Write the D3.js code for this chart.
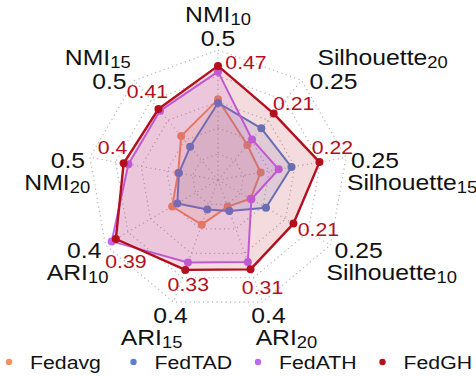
<!doctype html>
<html lang="en">
<head>
<meta charset="UTF-8">
<title>radar</title>
<script src="https://cdn.jsdelivr.net/npm/d3@7"></script>
<style>
  body { margin: 0; background: #fff; }
  text { font-family: "Liberation Sans", Arial, sans-serif; }
</style>
</head>
<body>
<script>
  // axes, clockwise from the top
  var axisNames = ["NMI", "Silhouette", "Silhouette", "Silhouette", "ARI", "ARI", "ARI", "NMI", "NMI"];
  var axisSubs = ["10", "20", "15", "10", "20", "15", "10", "20", "15"];
  var axisMax = [0.5, 0.25, 0.25, 0.25, 0.4, 0.4, 0.4, 0.5, 0.5];

  // series values
  var seriesNames = ["Fedavg", "FedTAD", "FedATH", "FedGH"];
  var fedavg = [0.335, 0.095, 0.09, 0.078, 0.094, 0.158, 0.176, 0.168, 0.238];
  var fedtad = [0.32, 0.14, 0.155, 0.115, 0.11, 0.104, 0.156, 0.165, 0.18];
  var fedath = [0.45, 0.11, 0.128, 0.08, 0.29, 0.292, 0.408, 0.378, 0.375];
  var fedgh = [0.474, 0.18, 0.214, 0.181, 0.316, 0.318, 0.392, 0.398, 0.385];
  var fedghLabels = ["0.47", "0.21", "0.22", "0.21", "0.31", "0.33", "0.39", "0.4", "0.41"];

  var colors = ["#f4915f", "#5b80cc", "#c266f2", "#b30f1c"];
  var allSeries = [fedavg, fedtad, fedath, fedgh];

  var width = 476, height = 377;
  var cx = 218, cy = 180;
  var n = axisNames.length;
  var stretch = 1.15; // text in the picture is a bit wide

  var svg = d3.select("body").append("svg")
      .attr("width", width)
      .attr("height", height);
  var g = svg.append("g").attr("transform", "translate(" + cx + "," + cy + ")");

  // text placed at (x,y), widened a little
  function label(parent, x, y, anchor, size, color) {
    return parent.append("g")
        .attr("transform", "translate(" + x + "," + y + ")")
      .append("text")
        .attr("transform", "scale(" + stretch + ",1)")
        .attr("text-anchor", anchor)
        .attr("font-size", size)
        .attr("fill", color);
  }

  var angle = function(i) { return i * 2 * Math.PI / n; };
  var r = d3.scaleLinear().domain([0, 1.08]).range([0, 130]);

  var radial = d3.lineRadial()
      .angle(function(d, i) { return angle(i); })
      .radius(function(d) { return r(d); })
      .curve(d3.curveLinearClosed);

  // grid rings + spokes
  var rings = d3.range(1, 6).map(function(k) { return 1.08 * k / 5; });
  g.selectAll(".ring").data(rings).enter().append("path")
      .attr("d", function(lv) { return radial(d3.range(n).map(function() { return lv; })); })
      .attr("fill", "none")
      .attr("stroke", "#b5b5b5")
      .attr("stroke-width", 1.2)
      .attr("stroke-dasharray", "1.2,3.3");

  g.selectAll(".spoke").data(d3.range(n)).enter().append("line")
      .attr("x1", 0).attr("y1", 0)
      .attr("x2", function(i) { return d3.pointRadial(angle(i), r(1.08))[0]; })
      .attr("y2", function(i) { return d3.pointRadial(angle(i), r(1.08))[1]; })
      .attr("stroke", "#b5b5b5")
      .attr("stroke-width", 1.2)
      .attr("stroke-dasharray", "1.2,3.3");

  // series
  allSeries.forEach(function(vals, s) {
    var frac = vals.map(function(v, i) { return v / axisMax[i]; });
    g.append("path")
        .attr("d", radial(frac))
        .attr("fill", colors[s])
        .attr("fill-opacity", 0.15)
        .attr("stroke", colors[s])
        .attr("stroke-width", s == 3 ? 2.4 : 2)
        .attr("stroke-linejoin", "round");
    g.selectAll(".pt" + s).data(frac).enter().append("circle")
        .attr("cx", function(d, i) { return d3.pointRadial(angle(i), r(d))[0]; })
        .attr("cy", function(d, i) { return d3.pointRadial(angle(i), r(d))[1]; })
        .attr("r", 4)
        .attr("fill", colors[s]);
  });

  // FedGH value labels
  var labelNudge = [[28, 3], [20, -4], [13, -8], [25, 12], [12, 25], [3, 21], [10, 29], [-11, -9], [-11, -11]];
  fedgh.forEach(function(d, i) {
    var p = d3.pointRadial(angle(i), r(d / axisMax[i]));
    label(g, p[0] + labelNudge[i][0], p[1] + labelNudge[i][1], "middle", 18.5, "#b30f1c")
        .text(fedghLabels[i]);
  });

  // axis labels: max value + name
  var nameShift = [0, 8, -4, -8, 18, -19, 7, 5, 4];
  var fmt = d3.format("~g");
  d3.range(n).forEach(function(i) {
    var a = angle(i), s = Math.sin(a), c = Math.cos(a);
    var v = d3.pointRadial(a, r(1.08));
    var anchor, x, y;
    if (s > 0.35) { anchor = "start"; x = v[0] + 4 + 5 * Math.max(c, 0); y = v[1] + 11 - 3 * c; }
    else if (s < -0.35) { anchor = "end"; x = v[0] - 4 - 5 * Math.max(c, 0); y = v[1] + 11 - 3 * c; }
    else if (c > 0) { anchor = "middle"; x = v[0]; y = v[1] - 4; }
    else { anchor = "middle"; x = v[0] + (s > 0 ? 6 : -3); y = v[1] + 21; }

    label(g, x, y, anchor, 21.5, "#111").text(fmt(axisMax[i]));

    var ny = c > 0.5 ? y - 24 : y + 22;
    var t = label(g, x + nameShift[i], ny, anchor, 21.5, "#111");
    t.append("tspan").text(axisNames[i]);
    t.append("tspan").attr("dy", 3).attr("font-size", 16).text(axisSubs[i]);
  });

  // legend
  var legend = svg.append("g").attr("transform", "translate(9, 362)");
  var item = legend.selectAll(".item").data(seriesNames).enter().append("g")
      .attr("transform", function(d, i) { return "translate(" + (i * 124.5) + ",0)"; });
  item.append("circle").attr("r", 3.2).attr("fill", function(d, i) { return colors[i]; });
  item.each(function(d) {
    label(d3.select(this), 21, 6.5, "start", 18.5, "#111").text(d);
  });
</script>
</body>
</html>
